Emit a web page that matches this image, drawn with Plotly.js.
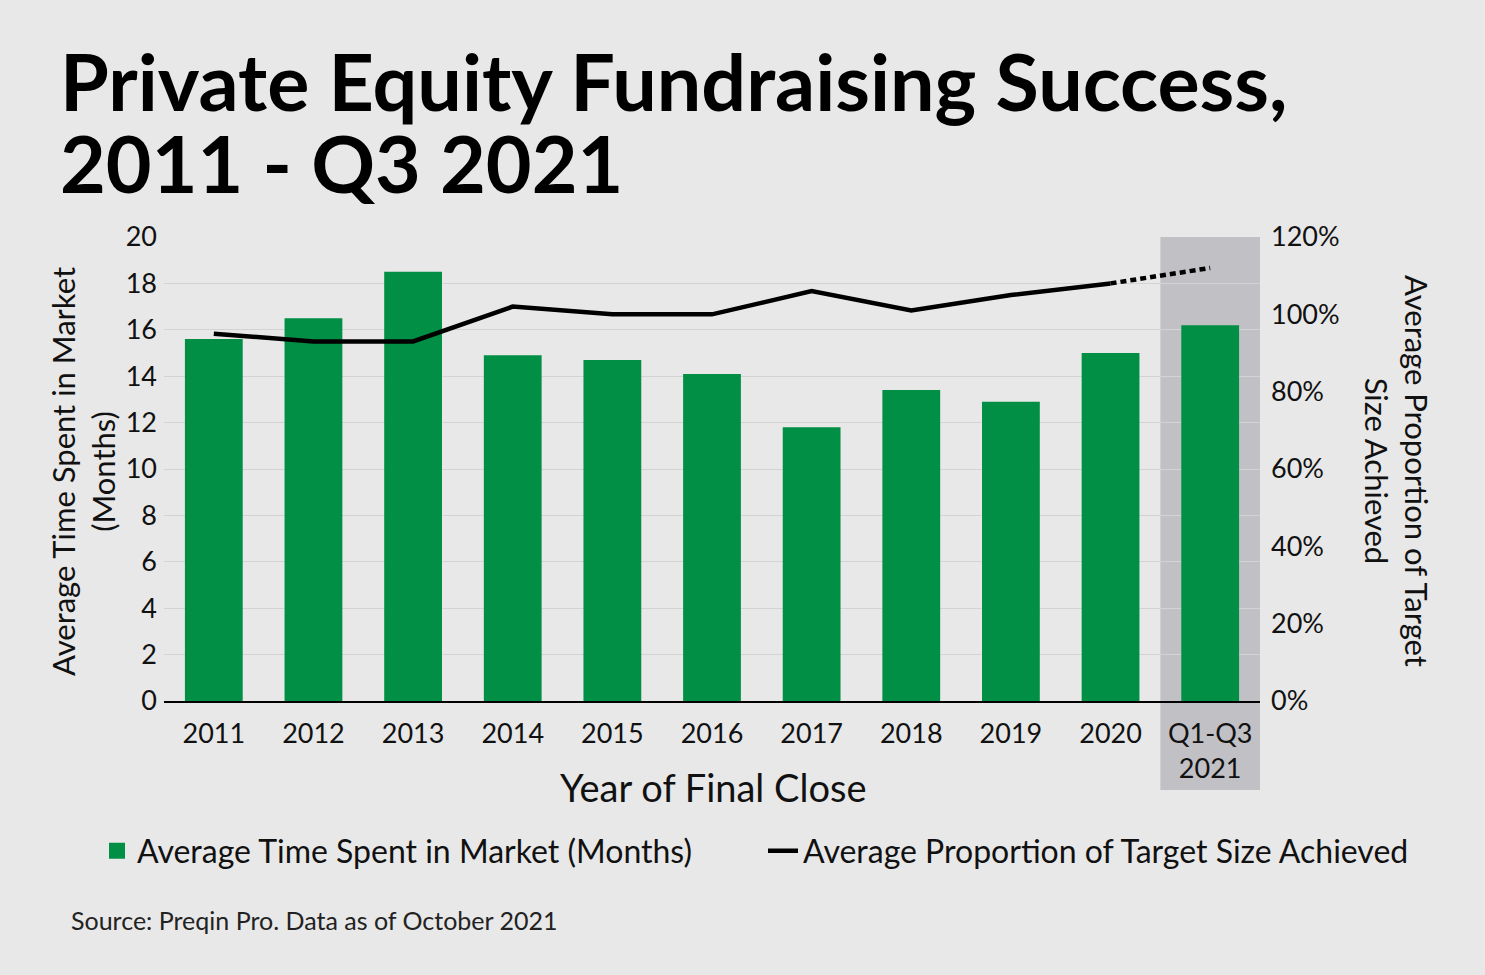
<!DOCTYPE html>
<html>
<head>
<meta charset="utf-8">
<script src="https://cdn.plot.ly/plotly-3.0.1.min.js"></script>
<style>
html,body{margin:0;padding:0;background:#e8e8e8;}
#chart{width:1485px;height:975px;}
</style>
</head>
<body>
<div id="chart"></div>
<script>
const categories = ["2011","2012","2013","2014","2015","2016","2017","2018","2019","2020","Q1-Q3<br>2021"];
const timeInMarket = [15.6,16.5,18.5,14.9,14.7,14.1,11.8,13.4,12.9,15.0,16.2];
const proportionAchieved = [95,93,93,102,100,100,106,101,105,108,112];
const leftTicks = [0,2,4,6,8,10,12,14,16,18,20];
const rightTicks = [0,20,40,60,80,100,120];
const rightTickLabels = ["0%","20%","40%","60%","80%","100%","120%"];
const titleLines = ["Private Equity Fundraising Success,", "2011 - Q3 2021"];

const FONT = "Lato, 'Open Sans', sans-serif";
const n = categories.length;
const BAR_COLOR = "#008f45";

const bars = {
  type: "bar", x: categories, y: timeInMarket,
  name: "Average Time Spent in Market (Months)",
  marker: {color: BAR_COLOR}, yaxis: "y", showlegend: false
};
const barLegend = {
  type: "scatter", mode: "markers", x: [null], y: [null],
  name: "Average Time Spent in Market (Months)",
  marker: {color: BAR_COLOR, symbol: "square", size: 20},
  legend: "legend", showlegend: true
};
const lineSolid = {
  type: "scatter", mode: "lines",
  x: categories.slice(0, n - 1), y: proportionAchieved.slice(0, n - 1),
  name: "Average Proportion of Target Size Achieved",
  line: {color: "#000", width: 4.5}, yaxis: "y2", legend: "legend2"
};
const lineDotted = {
  type: "scatter", mode: "lines",
  x: categories.slice(n - 2), y: proportionAchieved.slice(n - 2),
  showlegend: false,
  line: {color: "#000", width: 4.5, dash: "6px,4px"}, yaxis: "y2"
};

const legendBase = {
  orientation: "h", xref: "container", yref: "container",
  xanchor: "left", y: 1 - 851/975, yanchor: "middle",
  font: {family: FONT, size: 32, color: "#111"},
  bgcolor: "rgba(0,0,0,0)"
};

const layout = {
  width: 1485, height: 975,
  paper_bgcolor: "#e8e8e8", plot_bgcolor: "rgba(0,0,0,0)",
  margin: {l: 164, r: 225, t: 237, b: 274},
  font: {family: FONT, color: "#111"},
  bargap: 0.42,
  showlegend: true,
  legend: Object.assign({}, legendBase, {x: 97/1485}),
  legend2: Object.assign({}, legendBase, {x: 763/1485}),
  xaxis: {
    type: "category", tickfont: {family: FONT, size: 27, color: "#111"},
    showgrid: false, showline: true, linecolor: "#000", linewidth: 1.5,
    ticks: "", ticklabelstandoff: 8, fixedrange: true
  },
  yaxis: {
    range: [0, 20], tickvals: leftTicks,
    tickfont: {family: FONT, size: 27, color: "#111"},
    showgrid: true, gridcolor: "#d3d3d3", gridwidth: 1,
    zeroline: false, showline: false, ticks: "", ticklabelstandoff: 6
  },
  yaxis2: {
    range: [0, 120], tickvals: rightTicks, ticktext: rightTickLabels,
    overlaying: "y", side: "right",
    tickfont: {family: FONT, size: 27, color: "#111"},
    showgrid: false, zeroline: false, showline: false, ticks: "", ticklabelstandoff: 10
  },
  shapes: [{
    type: "rect", layer: "below",
    xref: "x", yref: "paper",
    x0: n - 1.5, x1: n - 0.5, y0: -0.192, y1: 1,
    fillcolor: "#c0c0c5", line: {width: 0}
  }],
  annotations: [
    {text: "<b>" + titleLines[0] + "</b>", xref: "paper", yref: "paper",
     x: (58 - 164)/1096, y: (701 - 81)/464, showarrow: false,
     font: {family: FONT, size: 79, color: "#000"}, xanchor: "left", yanchor: "middle"},
    {text: "<b>" + titleLines[1] + "</b>", xref: "paper", yref: "paper",
     x: (58 - 164)/1096, y: (701 - 162)/464, showarrow: false,
     font: {family: FONT, size: 79, color: "#000"}, xanchor: "left", yanchor: "middle"},
    {text: "Average Time Spent in Market<br>(Months)", xref: "paper", yref: "paper",
     x: (83 - 164)/1096, y: (701 - 471)/464, textangle: -90, showarrow: false,
     font: {family: FONT, size: 31, color: "#111"}, xanchor: "center", yanchor: "middle"},
    {text: "Average Proportion of Target<br>Size Achieved", xref: "paper", yref: "paper",
     x: (1397 - 164)/1096, y: (701 - 471)/464, textangle: 90, showarrow: false,
     font: {family: FONT, size: 31, color: "#111"}, xanchor: "center", yanchor: "middle"},
    {text: "Year of Final Close", xref: "paper", yref: "paper",
     x: (713 - 164)/1096, y: -(787 - 701)/464, showarrow: false,
     font: {family: FONT, size: 38, color: "#111"}, xanchor: "center", yanchor: "middle"},
    {text: "Source: Preqin Pro. Data as of October 2021", xref: "paper", yref: "paper",
     x: (69 - 164)/1096, y: -(920 - 701)/464, showarrow: false,
     font: {family: FONT, size: 25, color: "#222"}, xanchor: "left", yanchor: "middle"}
  ]
};

Plotly.newPlot("chart", [bars, lineSolid, lineDotted, barLegend], layout, {displayModeBar: false, staticPlot: true});
</script>
</body>
</html>
